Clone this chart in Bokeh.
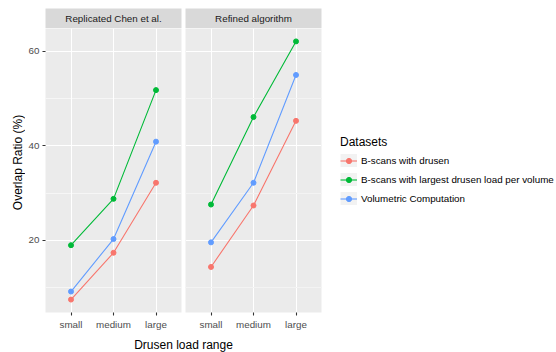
import math
from bokeh.plotting import figure
from bokeh.models import Range1d, FactorRange, FixedTicker, Label, Legend, LegendItem, Grid
from bokeh.layouts import row, column
from bokeh.embed import file_html
from bokeh.resources import INLINE

# ---- data ----
categories = ["small", "medium", "large"]
panel_titles = ["Replicated Chen et al.", "Refined algorithm"]
series_names = ["B-scans with drusen",
                "B-scans with largest drusen load per volume",
                "Volumetric Computation"]
series_colors = ["#F8766D", "#00BA38", "#619CFF"]

chen_drusen = [7.5, 17.4, 32.2]
chen_largest = [19.0, 28.8, 51.8]
chen_volumetric = [9.2, 20.3, 40.9]

refined_drusen = [14.4, 27.4, 45.3]
refined_largest = [27.6, 46.1, 62.1]
refined_volumetric = [19.6, 32.2, 55.0]

y_ticks = [20, 40, 60]
y_minor_ticks = [10, 30, 50]

x_title = "Drusen load range"
y_title = "Overlap Ratio (%)"
legend_title = "Datasets"

panel_data = [
    [chen_drusen, chen_largest, chen_volumetric],
    [refined_drusen, refined_largest, refined_volumetric],
]

FONT = "Liberation Sans"
all_vals = [v for pd_ in panel_data for s in pd_ for v in s]
lo, hi = min(all_vals), max(all_vals)
span = hi - lo
y_lo, y_hi = lo - 0.05 * span, hi + 0.05 * span

PANEL_H = 308
STRIP_H = 28   # 8px top margin + 20px strip
YLAB_W = 25


def bare_figure(width, height, xr, yr):
    f = figure(width=width, height=height, x_range=xr, y_range=yr,
               x_axis_type=None, y_axis_type=None, output_backend="svg", toolbar_location=None,
               min_border=0, outline_line_color=None, background_fill_color="white",
               border_fill_color="white")
    return f


def make_strip(title, width, bl, br):
    s = figure(width=width, height=STRIP_H, x_range=Range1d(0, 1), y_range=Range1d(0, 1),
               x_axis_type=None, y_axis_type=None, output_backend="svg", toolbar_location=None,
               min_border_left=bl, min_border_right=br, min_border_top=8, min_border_bottom=0,
               background_fill_color="#D9D9D9", border_fill_color="white", outline_line_color=None)
    s.add_layout(Label(x=0.5, y=0.5, text=title, text_align="center", text_baseline="middle",
                       text_font=FONT, text_font_size="9.8px", text_color="#1A1A1A"))
    return s


def make_panel(series, width, bl, br, show_y):
    p = figure(width=width, height=PANEL_H,
               x_range=FactorRange(factors=categories, range_padding=0.2 / 3),
               y_range=Range1d(y_lo, y_hi),
               y_axis_location="left" if show_y else None,
               output_backend="svg", toolbar_location=None,
               min_border_left=bl, min_border_right=br, min_border_top=0, min_border_bottom=24,
               background_fill_color="#EBEBEB", border_fill_color="white", outline_line_color=None)
    ticker = FixedTicker(ticks=y_ticks, minor_ticks=y_minor_ticks)
    if show_y:
        p.yaxis.ticker = ticker
        p.ygrid.ticker = ticker
        ygrid = list(p.ygrid)
    else:
        g = Grid(dimension=1, ticker=ticker)
        p.add_layout(g)
        ygrid = [g]
    for g in ygrid:
        g.grid_line_color = "white"
        g.grid_line_width = 1.1
        g.minor_grid_line_color = "white"
        g.minor_grid_line_width = 0.55
    p.xgrid.grid_line_color = "white"
    p.xgrid.grid_line_width = 1.1
    for ax in p.axis:
        ax.axis_line_color = None
        ax.major_tick_line_color = "#333333"
        ax.major_tick_line_width = 1.1
        ax.major_tick_out = 3
        ax.major_tick_in = 0
        ax.minor_tick_line_color = None
        ax.major_label_text_font = FONT
        ax.major_label_text_font_size = "9.8px"
        ax.major_label_text_color = "#4D4D4D"
        ax.major_label_standoff = 3
    if show_y:
        p.yaxis.major_label_standoff = 2
    for vals, color in zip(series, series_colors):
        p.line(categories, vals, line_color=color, line_width=1.1)
        p.scatter(categories, vals, size=5, fill_color=color, line_color=color)
    return p


# y title column: x 0..25, centred on strip+panel area (y 8..312 -> centre ~162)
ylab = bare_figure(YLAB_W, 324, Range1d(0, YLAB_W), Range1d(0, 324))
ylab.add_layout(Label(x=17.5, y=162, text=y_title, angle=math.pi / 2,
                      text_align="center", text_baseline="middle",
                      text_font=FONT, text_font_size="12px", text_color="black"))

# panel 1: canvas x 25..183 (frame 45..181); panel 2: canvas x 183..323 (frame 185..321)
s1 = make_strip(panel_titles[0], 158, 20, 2)
p1 = make_panel(panel_data[0], 158, 20, 2, True)
s2 = make_strip(panel_titles[1], 140, 2, 2)
p2 = make_panel(panel_data[1], 140, 2, 2, False)

# legend figure: canvas x 323..554
p3 = figure(width=231, height=STRIP_H + PANEL_H,
            x_range=FactorRange(factors=categories), y_range=Range1d(y_lo, y_hi),
            x_axis_type=None, y_axis_type=None, output_backend="svg", toolbar_location=None,
            min_border=0, outline_line_color=None, background_fill_color="white",
            border_fill_color="white")
p3.xgrid.visible = False
p3.ygrid.visible = False
items = []
for name, vals, color in zip(series_names, panel_data[1], series_colors):
    bg = p3.line(categories, vals, line_color="#F2F2F2", line_width=17, visible=False)
    ln = p3.line(categories, vals, line_color=color, line_width=1.1, visible=False)
    sc = p3.scatter(categories, vals, size=5, fill_color=color, line_color=color, visible=False)
    items.append(LegendItem(label=name, renderers=[bg, ln, sc]))
legend = Legend(items=items, location=(17, 131.5), title=legend_title,
                title_text_font=FONT, title_text_font_size="12px", title_text_color="black",
                title_text_font_style="normal", title_standoff=5,
                label_text_font=FONT, label_text_font_size="9.8px", label_text_color="black",
                glyph_width=17, glyph_height=13, spacing=6, padding=0, margin=0,
                label_standoff=4, border_line_color=None, background_fill_alpha=0,
                click_policy="none")
p3.add_layout(legend)

# x axis title figure, centred under both panels (centre x = 183)
t = bare_figure(366, 16, Range1d(0, 1), Range1d(0, 1))
t.add_layout(Label(x=0.5, y=0.5, text=x_title, text_align="center", text_baseline="middle",
                   text_font=FONT, text_font_size="12px", text_color="black"))

layout = column(row(ylab, column(s1, p1), column(s2, p2), p3), t)

open("out.html", "w").write(file_html(layout, INLINE))
